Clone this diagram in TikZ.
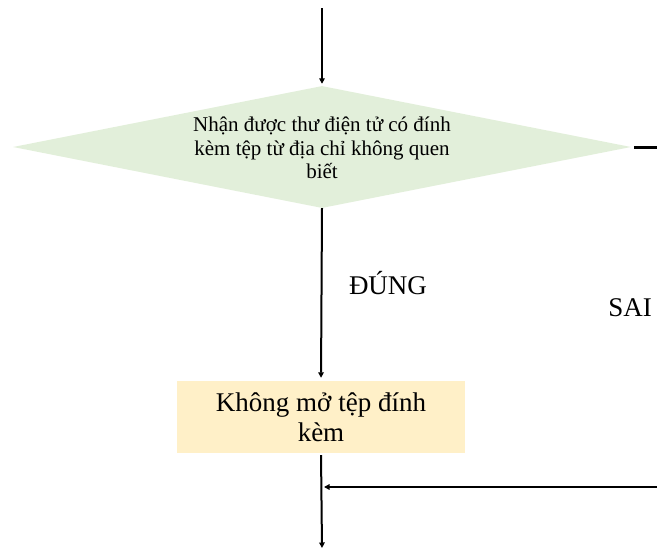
\documentclass[tikz,border=0pt]{standalone}
\usepackage{fontspec}
\setmainfont{Liberation Serif}
\usetikzlibrary{shapes.geometric,arrows.meta}
\definecolor{diafill}{RGB}{226,239,218}
\definecolor{boxfill}{RGB}{255,240,200}
\begin{document}
\begin{tikzpicture}[x=1pt,y=-1pt,
  dia/.style={diamond,fill=diafill,draw=none,minimum width=618pt,minimum height=122pt,inner sep=0pt},
  dtext/.style={align=center,font=\fontsize{21}{23.5}\selectfont,inner sep=0pt},
  procbox/.style={rectangle,fill=boxfill,draw=none,minimum width=288pt,minimum height=72pt,align=center,font=\fontsize{27}{30}\selectfont,inner sep=0pt},
  lbl/.style={font=\fontsize{27}{30}\selectfont,inner sep=0pt},
  arr/.style={line width=2pt,-{Triangle[length=5.5pt,width=5.5pt]}}]
\useasboundingbox (0,0) rectangle (657,549);
\coordinate (top) at (322,8);
\node[dia] (d) at (322,147) {};
\node[dtext] (dt) at (322,148) {Nhận được thư điện tử có đính\\kèm tệp từ địa chỉ không quen\\biết};
\node[procbox] (b) at (321,417) {Không mở tệp đính\\kèm};
\coordinate (out) at (657,147);
\coordinate (in) at (657,487);
\coordinate (j) at (324,487);
\coordinate (end) at (322,548);
\draw[arr,shorten >=2pt] (top) -- (d.north);
\draw[arr,shorten >=3pt] (d.south) -- (b.north);
\draw[line width=3pt] (d.east) ++(3,0) -- (out);
\draw[arr] (in) -- (j);
\draw[arr,shorten <=2pt] (b.south) -- (end);
\node[lbl] (yes) at (388,283) {ĐÚNG};
\node[lbl] (no) at (630,308) {SAI};
\end{tikzpicture}
\end{document}
